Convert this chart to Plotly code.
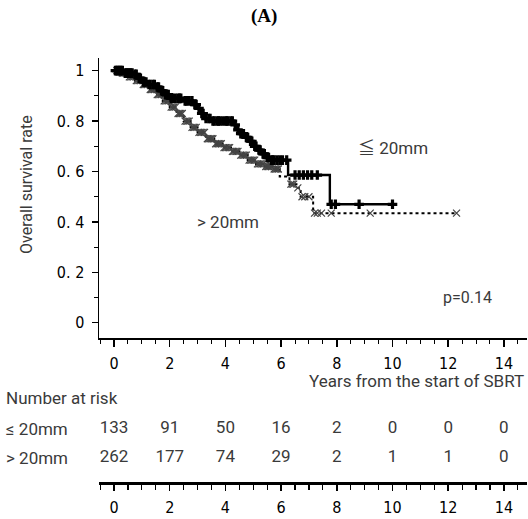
import numpy as np
import plotly.graph_objects as go

# ---- data ----
le_times = [0, 0.35, 0.7, 0.85, 1.0, 1.2, 1.5, 1.65, 1.8, 2.0, 2.5, 2.85, 3.0, 3.1, 3.25, 3.5,
            4.3, 4.4, 4.5, 4.7, 4.85, 5.0, 5.15, 5.3, 5.45, 5.6, 6.25, 7.75, 10.0]
le_surv = [1.0, 0.99, 0.985, 0.97, 0.955, 0.945, 0.935, 0.92, 0.905, 0.89, 0.88, 0.865, 0.85, 0.83, 0.81, 0.80,
           0.785, 0.765, 0.75, 0.735, 0.72, 0.70, 0.685, 0.67, 0.655, 0.645, 0.586, 0.47, 0.47]
le_censor = [0.05, 0.1, 0.15, 0.2, 0.25, 0.3, 0.4, 0.45, 0.5, 0.55, 0.6, 0.65, 0.75, 0.8, 0.9, 0.95,
             1.05, 1.1, 1.15, 1.25, 1.3, 1.4, 1.45, 1.55, 1.6, 1.7, 1.75, 1.85, 1.9, 1.95,
             2.05, 2.1, 2.2, 2.3, 2.35, 2.4, 2.55, 2.6, 2.7, 2.8, 2.9, 2.95, 3.05, 3.15, 3.2, 3.3,
             3.4, 3.45, 3.55, 3.6, 3.7, 3.75, 3.8, 3.9, 4.0, 4.05, 4.1, 4.2, 4.25, 4.35, 4.45,
             4.55, 4.6, 4.65, 4.75, 4.8, 4.9, 4.95, 5.05, 5.1, 5.2, 5.25, 5.35, 5.4, 5.5, 5.55,
             5.65, 5.7, 5.75, 5.85, 5.95, 6.05, 6.2, 6.5, 6.65, 6.8, 6.95, 7.1, 7.3, 7.8, 7.95, 8.8, 10.0]

gt_times = [0, 0.25, 0.5, 0.75, 1.0, 1.25, 1.5, 1.75, 2.0, 2.25, 2.5, 2.75, 3.0, 3.3, 3.6, 3.9,
            4.2, 4.5, 4.8, 5.1, 5.4, 5.7, 5.95, 6.3, 6.55, 6.7, 7.15, 12.3]
gt_surv = [1.0, 0.99, 0.975, 0.96, 0.945, 0.925, 0.905, 0.88, 0.855, 0.83, 0.80, 0.775, 0.755, 0.73, 0.71, 0.695,
           0.68, 0.665, 0.645, 0.63, 0.62, 0.61, 0.58, 0.55, 0.535, 0.50, 0.435, 0.435]
gt_censor = [0.1, 0.15, 0.2, 0.3, 0.35, 0.4, 0.45, 0.55, 0.6, 0.65, 0.7, 0.8, 0.85, 0.9, 0.95,
             1.05, 1.1, 1.15, 1.2, 1.3, 1.35, 1.4, 1.45, 1.55, 1.6, 1.65, 1.7, 1.8, 1.85, 1.9, 1.95,
             2.05, 2.1, 2.15, 2.2, 2.3, 2.35, 2.4, 2.45, 2.55, 2.6, 2.65, 2.7, 2.8, 2.85, 2.9, 2.95,
             3.05, 3.1, 3.15, 3.2, 3.25, 3.35, 3.4, 3.45, 3.5, 3.55, 3.65, 3.7, 3.75, 3.8, 3.85,
             3.95, 4.0, 4.05, 4.1, 4.15, 4.25, 4.3, 4.35, 4.4, 4.45, 4.55, 4.6, 4.65, 4.7, 4.75,
             4.85, 4.9, 4.95, 5.0, 5.05, 5.15, 5.2, 5.25, 5.3, 5.35, 5.45, 5.5, 5.55, 5.6, 5.65,
             5.75, 5.8, 5.85, 5.9, 6.35, 6.4, 6.45, 6.6, 6.75, 6.85, 7.0, 7.2, 7.3, 7.45, 7.8, 9.2, 12.3]

risk_times = [0, 2, 4, 6, 8, 10, 12, 14]
risk_le = [133, 91, 50, 16, 2, 0, 0, 0]
risk_gt = [262, 177, 74, 29, 2, 1, 1, 0]

y_tickvals = [0, 0.2, 0.4, 0.6, 0.8, 1]
y_ticktext = ["0", "0. 2", "0. 4", "0. 6", "0. 8", "1"]


def step_lookup(times, surv, t):
    idx = np.searchsorted(np.array(times), np.array(t), side="right") - 1
    return list(np.array(surv)[idx])


W, H = 528, 519
def px(x):
    return x / W
def py(y):
    return 1 - y / H

TXT = "#3a3a3a"
NARROW = "Liberation Sans Narrow, DejaVu Sans Condensed, Noto Sans CJK JP"
SANS = "Roboto, Noto Sans CJK JP"

fig = go.Figure()

fig.add_trace(go.Scatter(x=gt_times, y=gt_surv, mode="lines", line=dict(shape="hv", color="black", width=2, dash="dot"),
                         showlegend=False, hoverinfo="skip"))
fig.add_trace(go.Scatter(x=gt_censor, y=step_lookup(gt_times, gt_surv, gt_censor), mode="markers",
                         marker=dict(symbol="x-thin", size=7, line=dict(color="#444444", width=1.2)),
                         showlegend=False))
fig.add_trace(go.Scatter(x=le_times, y=le_surv, mode="lines", line=dict(shape="hv", color="black", width=2.4),
                         showlegend=False, hoverinfo="skip"))
fig.add_trace(go.Scatter(x=le_censor, y=step_lookup(le_times, le_surv, le_censor), mode="markers",
                         marker=dict(symbol="cross", size=8, color="black"),
                         showlegend=False))

# number at risk text on the lower axis system
fig.add_trace(go.Scatter(x=risk_times, y=[1] * len(risk_times), text=[str(v) for v in risk_le], mode="text",
                         textfont=dict(family=SANS, size=17, color=TXT), xaxis="x2", yaxis="y2",
                         showlegend=False, cliponaxis=False))
fig.add_trace(go.Scatter(x=risk_times, y=[0] * len(risk_times), text=[str(v) for v in risk_gt], mode="text",
                         textfont=dict(family=SANS, size=17, color=TXT), xaxis="x2", yaxis="y2",
                         showlegend=False, cliponaxis=False))

x_dom = [px(99), px(527)]
x_rng = [-0.54, 14.83]

fig.update_layout(
    width=W, height=H,
    margin=dict(l=0, r=0, t=0, b=0, autoexpand=False),
    paper_bgcolor="white", plot_bgcolor="white",
    xaxis=dict(domain=x_dom, range=x_rng, showgrid=False, zeroline=False, automargin=False,
               showline=True, linecolor="black", linewidth=1.5,
               ticks="outside", tickvals=[0, 2, 4, 6, 8, 10, 12, 14], ticklen=7, tickwidth=1.5, tickcolor="black",
               minor=dict(dtick=0.5, tick0=0, ticks="outside", ticklen=4, tickwidth=1, tickcolor="black"),
               tickfont=dict(family=NARROW, size=16, color="black"), ticklabelstandoff=3,
               anchor="y"),
    yaxis=dict(domain=[py(338), py(58)], range=[-0.06, 1.05], showgrid=False, zeroline=False, automargin=False,
               showline=True, linecolor="black", linewidth=1.5,
               ticks="outside", tickvals=y_tickvals, ticktext=y_ticktext, ticklen=6, tickwidth=1.2, tickcolor="black",
               minor=dict(dtick=0.1, tick0=0, ticks="outside", ticklen=4, tickwidth=1, tickcolor="black"),
               tickfont=dict(family=NARROW, size=16, color="black"), ticklabelstandoff=4,
               anchor="x"),
    xaxis2=dict(domain=x_dom, range=x_rng, showgrid=False, zeroline=False, automargin=False,
                showline=True, linecolor="black", linewidth=2.5,
                ticks="outside", tickvals=[0, 2, 4, 6, 8, 10, 12, 14], ticklen=6, tickwidth=1.5, tickcolor="black",
                minor=dict(dtick=0.5, tick0=0, ticks="outside", ticklen=5, tickwidth=1.2, tickcolor="black"),
                tickfont=dict(family=NARROW, size=16, color="black"), ticklabelstandoff=3,
                anchor="y2", side="bottom"),
    yaxis2=dict(domain=[py(482), py(400)], range=[-0.828, 2.0], visible=False, anchor="x2", automargin=False),
)

ann = [
    dict(text="<b>(A)</b>", x=px(264), y=py(16), font=dict(family="Liberation Serif, DejaVu Serif", size=19, color="black")),
    dict(text="Overall survival rate", x=px(26), y=py(185), textangle=-90, font=dict(family=SANS, size=16, color=TXT)),
    dict(text="≦ 20mm", x=px(393), y=py(148), font=dict(family=SANS, size=17, color=TXT)),
    dict(text="> 20mm", x=px(228), y=py(222), font=dict(family=SANS, size=17, color=TXT)),
    dict(text="p=0.14", x=px(467), y=py(297), font=dict(family=SANS, size=16, color=TXT)),
    dict(text="Years from the start of SBRT", x=px(526), y=py(381), xanchor="right",
         font=dict(family=SANS, size=17, color=TXT)),
    dict(text="Number at risk", x=px(4), y=py(398), xanchor="left", font=dict(family=SANS, size=17, color=TXT)),
    dict(text="≤ 20mm", x=px(4), y=py(429), xanchor="left", font=dict(family=SANS, size=17, color=TXT)),
    dict(text="> 20mm", x=px(4), y=py(458), xanchor="left", font=dict(family=SANS, size=17, color=TXT)),
]
for a in ann:
    a.setdefault("xanchor", "center")
    a.update(xref="paper", yref="paper", yanchor="middle", showarrow=False)
fig.update_layout(annotations=ann)

fig.write_html("out.html", config=dict(displayModeBar=False, staticPlot=True),
               post_script="document.body.style.margin='0';document.body.style.overflow='hidden';")
